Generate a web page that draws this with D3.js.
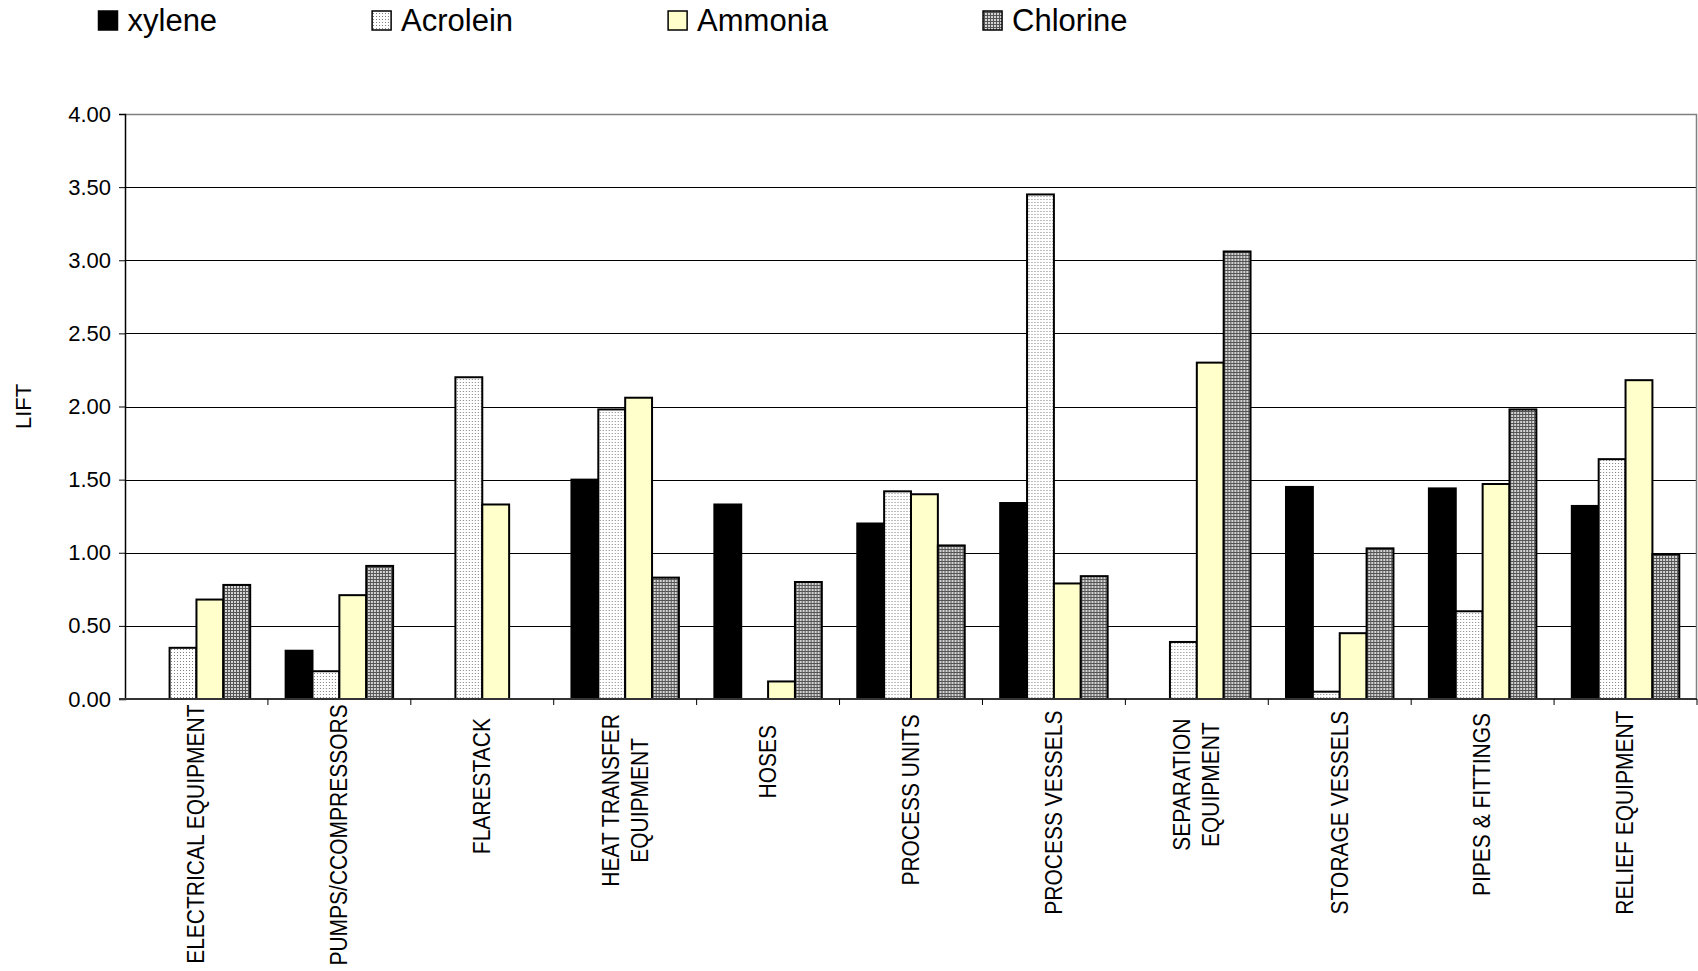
<!DOCTYPE html>
<html>
<head>
<meta charset="utf-8">
<script src="https://cdn.jsdelivr.net/npm/d3@7"></script>
<style>
  body { margin: 0; background: #fff; }
  svg { display: block; }
  text { font-family: "Liberation Sans", Arial, sans-serif; fill: #000; }
</style>
</head>
<body>
<svg id="chart" width="1698" height="971"></svg>
<script>
// Equipment categories (a "\n" splits a label over two lines)
const categories = [
  "ELECTRICAL EQUIPMENT", "PUMPS/CCOMPRESSORS", "FLARESTACK",
  "HEAT TRANSFER\nEQUIPMENT", "HOSES", "PROCESS UNITS", "PROCESS VESSELS",
  "SEPARATION\nEQUIPMENT", "STORAGE VESSELS", "PIPES & FITTINGS", "RELIEF EQUIPMENT"
];
const seriesNames = ["xylene", "Acrolein", "Ammonia", "Chlorine"];

// Lift per category for each chemical
const xylene   = [0.00, 0.33, 0.00, 1.50, 1.33, 1.20, 1.34, 0.00, 1.45, 1.44, 1.32];
const acrolein = [0.35, 0.19, 2.20, 1.98, 0.00, 1.42, 3.45, 0.39, 0.05, 0.60, 1.64];
const ammonia  = [0.68, 0.71, 1.33, 2.06, 0.12, 1.40, 0.79, 2.30, 0.45, 1.47, 2.18];
const chlorine = [0.78, 0.91, 0.00, 0.83, 0.80, 1.05, 0.84, 3.06, 1.03, 1.98, 0.99];

const yTicks = [0, 0.5, 1, 1.5, 2, 2.5, 3, 3.5, 4];
const yTitle = "LIFT";

const seriesValues = [xylene, acrolein, ammonia, chlorine];

const svg = d3.select("#chart");
const plot = { left: 125, right: 1697, top: 114, bottom: 699 };

// Fill patterns
const defs = svg.append("defs");
const dots = defs.append("pattern").attr("id", "pat-dots")
  .attr("patternUnits", "userSpaceOnUse").attr("width", 3).attr("height", 3);
dots.append("rect").attr("width", 3).attr("height", 3).attr("fill", "#fff");
dots.append("rect").attr("x", 1).attr("y", 1).attr("width", 1).attr("height", 1).attr("fill", "#808080");

const grid = defs.append("pattern").attr("id", "pat-grid")
  .attr("patternUnits", "userSpaceOnUse").attr("width", 3).attr("height", 3);
grid.append("rect").attr("width", 3).attr("height", 3).attr("fill", "#d4d4d4");
grid.append("rect").attr("width", 3).attr("height", 1).attr("fill", "#555");
grid.append("rect").attr("width", 1).attr("height", 3).attr("fill", "#555");

const fills = ["#000000", "url(#pat-dots)", "#FFFFCC", "url(#pat-grid)"];

// Scales
const x0 = d3.scaleBand().domain(categories).range([plot.left, plot.right]).padding(0);
const bw = x0.bandwidth();
const x1 = d3.scaleBand().domain(seriesNames).range([bw * 0.124, bw * 0.876]).padding(0);
const y = d3.scaleLinear().domain([0, 4]).range([plot.bottom, plot.top]);

// Gridlines
svg.append("g").selectAll("line")
  .data(yTicks.filter(t => t > 0 && t < 4))
  .join("line")
  .attr("x1", plot.left).attr("x2", plot.right)
  .attr("y1", d => Math.round(y(d)) + 0.5).attr("y2", d => Math.round(y(d)) + 0.5)
  .attr("stroke", "#000").attr("stroke-width", 1);

// Plot border (top and right)
svg.append("path")
  .attr("d", `M${plot.left},${y(4) + 0.5}H${plot.right - 0.5}V${plot.bottom}`)
  .attr("fill", "none").attr("stroke", "#808080").attr("stroke-width", 1.5);

// Bars
const groups = svg.append("g").selectAll("g")
  .data(categories)
  .join("g")
  .attr("transform", d => `translate(${x0(d)},0)`);

groups.selectAll("rect")
  .data((c, i) => seriesNames.map((s, k) => ({ s, k, v: seriesValues[k][i] })).filter(d => d.v > 0))
  .join("rect")
  .attr("x", d => x1(d.s))
  .attr("width", x1.bandwidth())
  .attr("y", d => y(d.v))
  .attr("height", d => y(0) - y(d.v))
  .attr("fill", d => fills[d.k])
  .attr("stroke", "#000")
  .attr("stroke-width", 2);

// Y axis
const yAxis = svg.append("g")
  .attr("transform", `translate(${plot.left},0)`)
  .call(d3.axisLeft(y).tickValues(yTicks).tickFormat(d3.format(".2f")).tickSize(6).tickPadding(8));
yAxis.select(".domain").attr("stroke", "#000").attr("stroke-width", 1.5);
yAxis.selectAll(".tick line").attr("stroke", "#000");
yAxis.selectAll(".tick text").attr("font-size", 22).attr("fill", "#000")
  .style("font-family", '"Liberation Sans", Arial, sans-serif');

// X axis line and boundary ticks
svg.append("line")
  .attr("x1", plot.left - 6).attr("x2", plot.right)
  .attr("y1", plot.bottom).attr("y2", plot.bottom)
  .attr("stroke", "#333").attr("stroke-width", 2);
const bounds = categories.map(c => x0(c)).concat([plot.right]);
svg.append("g").selectAll("line")
  .data(bounds.slice(1))
  .join("line")
  .attr("x1", d => d).attr("x2", d => d)
  .attr("y1", plot.bottom).attr("y2", plot.bottom + 6)
  .attr("stroke", "#000").attr("stroke-width", 1);

// Category labels, rotated
const lineGap = 29;
categories.forEach(c => {
  const lines = c.split("\n");
  const cx = x0(c) + bw / 2;
  const g = svg.append("g");
  const texts = lines.map(ln => g.append("text")
    .attr("font-size", 21)
    .attr("text-anchor", "middle")
    .attr("dominant-baseline", "central")
    .text(ln));
  const maxLen = d3.max(texts, t => t.node().getComputedTextLength());
  const cy = 733 + 0.39 * maxLen;
  texts.forEach((t, i) => {
    const off = (i - (lines.length - 1) / 2) * lineGap;
    t.attr("transform", `translate(${cx + off},${cy}) rotate(-90) scale(1,1.1)`);
  });
});

// Y axis title
svg.append("text")
  .attr("font-size", 22)
  .attr("text-anchor", "middle")
  .attr("dominant-baseline", "central")
  .attr("transform", `translate(23,${(plot.top + plot.bottom) / 2}) rotate(-90)`)
  .text(yTitle);

// Legend
const legend = svg.append("g");
let lx = 98.5;
seriesNames.forEach((s, k) => {
  legend.append("rect")
    .attr("x", lx).attr("y", 11).attr("width", 19).attr("height", 19)
    .attr("fill", fills[k]).attr("stroke", "#000").attr("stroke-width", 1.5);
  const t = legend.append("text")
    .attr("x", lx + 29).attr("y", 31)
    .attr("font-size", 31)
    .text(s);
  lx += 29 + t.node().getComputedTextLength() + 155;
});
</script>
</body>
</html>
